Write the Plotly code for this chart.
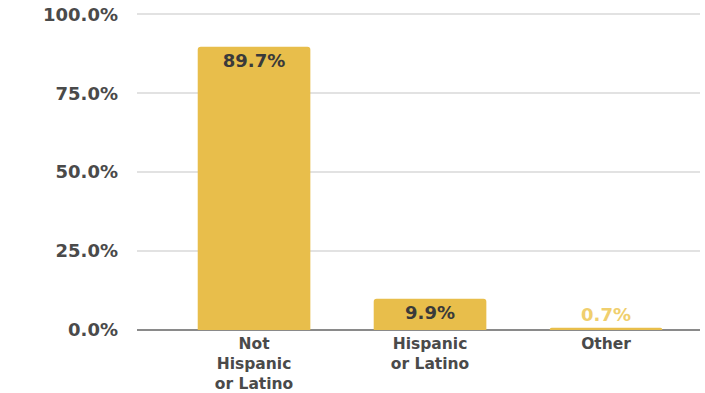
import plotly.graph_objects as go

categories = ["Not<br>Hispanic<br>or Latino", "Hispanic<br>or Latino", "Other"]
values = [89.7, 9.9, 0.7]
labels = ["89.7%", "9.9%", "0.7%"]
text_positions = ["inside", "inside", "outside"]
text_colors = ["#3a3a3a", "#3a3a3a", "#f0cf6e"]
y_ticks = [0, 25, 50, 75, 100]
y_tick_labels = ["0.0%", "25.0%", "50.0%", "75.0%", "100.0%"]

bar_color = "#E8BE4B"
font_family = "DejaVu Sans"

fig = go.Figure()
fig.add_trace(go.Bar(
    x=categories,
    y=values,
    text=labels,
    textposition=text_positions,
    insidetextanchor="end",
    textfont=dict(color=text_colors, size=18, family=font_family, weight="bold"),
    outsidetextfont=dict(color=text_colors, size=18, family=font_family, weight="bold"),
    constraintext="none",
    cliponaxis=False,
    marker=dict(color=bar_color, cornerradius=3, line=dict(width=0)),
    width=0.64,
    hoverinfo="skip",
))

fig.update_layout(
    width=705,
    height=393,
    margin=dict(l=137, r=5, t=13, b=63, autoexpand=False),
    paper_bgcolor="white",
    plot_bgcolor="white",
    showlegend=False,
    font=dict(family=font_family, color="#555555"),
    xaxis=dict(
        range=[-0.665, 2.534],
        showgrid=False,
        showline=False,
        ticks="",
        automargin=False,
        ticklabelstandoff=2,
        tickfont=dict(size=15.5, color="#4a4a4a", family=font_family, weight="bold"),
        fixedrange=True,
    ),
    yaxis=dict(
        range=[0, 100.4],
        tickvals=y_ticks,
        ticktext=y_tick_labels,
        showgrid=True,
        gridcolor="#e2e2e2",
        gridwidth=1.5,
        zeroline=True,
        zerolinecolor="#8a8a8a",
        zerolinewidth=1.5,
        showline=False,
        ticks="",
        automargin=False,
        ticklabelstandoff=18,
        tickfont=dict(size=18, color="#4a4a4a", family=font_family, weight="bold"),
        fixedrange=True,
    ),
)

fig.write_html("out.html")
